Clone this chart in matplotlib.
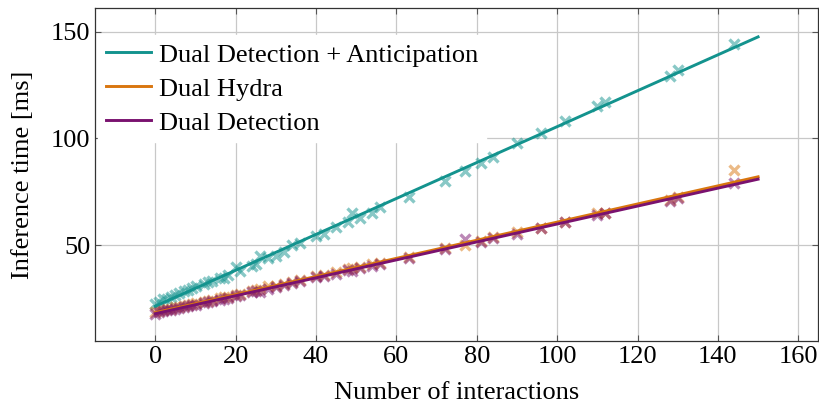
import numpy as np
import matplotlib
matplotlib.use("Agg")
import matplotlib.pyplot as plt

plt.rcParams['font.family'] = ['Liberation Serif', 'DejaVu Serif']
plt.rcParams['mathtext.fontset'] = 'stix'

# number of interactions (same x for every series)
interactions = [0, 1, 2, 3, 4, 5, 6, 7, 8, 9, 10, 12, 13, 14, 16, 17, 18, 20, 21,
                24, 25, 26, 28, 30, 32, 34, 36, 40, 42, 45, 48, 49, 51, 54, 56,
                63, 72, 77, 81, 84, 90, 96, 102, 110, 112, 128, 130, 144]

t_anticipation = [22.5, 23.5, 24.5, 24.8, 25.6, 26.5, 27.5, 28.3, 28.8, 30.0, 30.6,
                  31.8, 32.8, 33.2, 34.6, 34.4, 36.0, 39.8, 38.0, 40.2, 41.0, 44.8,
                  44.0, 44.8, 46.9, 49.8, 50.8, 54.2, 55.0, 58.6, 61.0, 65.2, 62.5,
                  65.0, 68.0, 72.4, 80.2, 84.9, 88.4, 91.2, 97.7, 102.3, 108.2,
                  115.2, 117.0, 129.0, 132.0, 144.3]

t_hydra = [18.5, 19.0, 19.6, 20.0, 20.2, 20.8, 21.0, 21.5, 22.0, 22.4, 22.8, 23.5,
           24.0, 24.2, 25.2, 25.5, 25.8, 26.5, 27.0, 28.6, 28.9, 29.3, 31.0, 30.8,
           31.8, 32.6, 33.5, 35.3, 36.0, 37.4, 39.0, 39.2, 39.5, 41.0, 41.5, 44.5,
           48.8, 50.0, 52.0, 53.8, 56.0, 58.2, 60.6, 65.0, 65.2, 71.2, 72.6, 85.2]

t_detection = [17.8, 18.6, 19.0, 19.4, 19.6, 20.0, 20.5, 20.8, 21.3, 21.8, 22.0, 22.8,
               23.3, 23.6, 24.4, 24.9, 25.3, 26.0, 26.7, 27.8, 28.3, 28.1, 29.6, 30.4,
               31.2, 32.0, 33.1, 34.8, 35.6, 36.6, 38.5, 38.0, 39.3, 40.0, 41.2, 43.8,
               48.0, 52.8, 51.6, 53.2, 55.3, 57.9, 61.0, 64.3, 65.0, 70.5, 72.2, 79.0]

series = [
    ("Dual Detection + Anticipation", t_anticipation, "#13938e"),
    ("Dual Hydra", t_hydra, "#d9760f"),
    ("Dual Detection", t_detection, "#7a126f"),
]

fig = plt.figure(figsize=(8.2, 4.08), dpi=100, facecolor='white')
ax = fig.add_axes([0.116, 0.164, 0.882, 0.816])

xs = np.array(interactions, dtype=float)
xfit = np.array([0, 150])
for name, ys, col in series:
    ax.plot(xs, ys, linestyle='none', marker='x', ms=7, mew=2.4, color=col, alpha=0.5)
for name, ys, col in series:
    k, b = np.polyfit(xs, ys, 1)
    ax.plot(xfit, k * xfit + b, color=col, lw=2.1, label=name)

ax.set_xlim(-15, 165)
ax.set_ylim(5, 161)
ax.set_xticks(np.arange(0, 161, 20))
ax.set_yticks([50, 100, 150])
ax.grid(True, color='#c8c8c8', lw=0.9)
ax.set_axisbelow(True)
ax.tick_params(direction='in', top=True, right=True, labelsize=19, length=4, color='#555555')
for s in ax.spines.values():
    s.set_color('#333333')
    s.set_linewidth(0.9)

ax.set_xlabel("Number of interactions", fontsize=19, labelpad=10)
ax.set_ylabel("Inference time [ms]", fontsize=19, labelpad=12)

leg = ax.legend(loc='upper left', bbox_to_anchor=(0.004, 0.919), fontsize=19,
                frameon=True, fancybox=False, edgecolor='white', framealpha=1,
                handlelength=1.7, labelspacing=0.4, borderaxespad=0.0,
                borderpad=0.3, handletextpad=0.3)

fig.savefig("out.png", dpi=100)
